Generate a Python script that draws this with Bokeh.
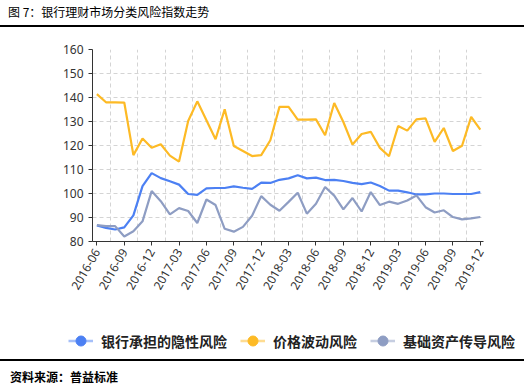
import math
from bokeh.plotting import figure
from bokeh.models import (ColumnDataSource, FixedTicker, Range1d, Legend, LegendItem, Div)
from bokeh.layouts import column, row
from bokeh.embed import file_html
from bokeh.resources import INLINE

# ---- data ----
months = ["2016-06", "2016-07", "2016-08", "2016-09", "2016-10", "2016-11", "2016-12",
          "2017-01", "2017-02", "2017-03", "2017-04", "2017-05", "2017-06", "2017-07",
          "2017-08", "2017-09", "2017-10", "2017-11", "2017-12", "2018-01", "2018-02",
          "2018-03", "2018-04", "2018-05", "2018-06", "2018-07", "2018-08", "2018-09",
          "2018-10", "2018-11", "2018-12", "2019-01", "2019-02", "2019-03", "2019-04",
          "2019-05", "2019-06", "2019-07", "2019-08", "2019-09", "2019-10", "2019-11",
          "2019-12"]
tick_labels = ["2016-06", "2016-09", "2016-12", "2017-03", "2017-06", "2017-09", "2017-12",
               "2018-03", "2018-06", "2018-09", "2018-12", "2019-03", "2019-06", "2019-09",
               "2019-12"]
bank_hidden = [86.7, 85.7, 85.0, 85.9, 90.9, 103.1, 108.5, 106.4, 105.1, 103.7, 99.8, 99.4,
               102.1, 102.3, 102.3, 103.0, 102.4, 101.9, 104.5, 104.4, 105.7, 106.3, 107.6,
               106.3, 106.6, 105.6, 105.7, 105.2, 104.4, 103.9, 104.6, 103.1, 101.2, 101.2,
               100.5, 99.6, 99.6, 100.0, 100.0, 99.8, 99.8, 99.8, 100.6]
price_vol = [141.4, 138.0, 138.0, 137.9, 116.0, 122.9, 119.1, 120.5, 115.8, 113.3, 130.2,
             138.4, 130.5, 122.6, 135.1, 119.8, 117.7, 115.6, 116.0, 122.2, 136.1, 136.1,
             130.8, 130.8, 130.9, 124.3, 137.7, 129.8, 120.4, 124.8, 125.7, 119.0, 115.5,
             128.1, 126.2, 130.9, 131.3, 121.5, 127.3, 117.7, 119.9, 131.9, 126.6]
asset_trans = [86.8, 86.4, 86.4, 82.1, 84.3, 88.4, 101.0, 96.8, 91.3, 93.9, 92.7, 87.7,
               97.5, 95.2, 85.3, 84.1, 86.1, 90.7, 98.9, 95.3, 92.8, 96.5, 100.3, 91.6,
               95.7, 102.7, 99.1, 93.4, 98.1, 92.5, 100.6, 95.2, 96.6, 95.7, 97.1, 99.2,
               94.3, 92.1, 93.0, 90.2, 89.2, 89.6, 90.2]
series_names = ["银行承担的隐性风险", "价格波动风险", "基础资产传导风险"]
colors = ["#4C80F3", "#FDBA25", "#8E9DC3"]
title_text = "图 7：银行理财市场分类风险指数走势"
source_text = "资料来源：普益标准"

idx = list(range(len(months)))
src = ColumnDataSource(dict(x=idx, month=months, a=bank_hidden, b=price_vol, c=asset_trans))

p = figure(width=524, height=295, output_backend="svg", toolbar_location=None,
           x_range=Range1d(-0.48, len(months) - 1 + 0.35), y_range=Range1d(80, 160),
           min_border_left=92, min_border_right=41, min_border_top=22, min_border_bottom=81)
p.outline_line_color = None
p.background_fill_color = "white"
p.border_fill_color = "white"

for col, c in zip(["a", "b", "c"], colors):
    p.line("x", col, source=src, line_color=c, line_width=2.2)

# axes
tick_pos = [months.index(t) for t in tick_labels]
p.xaxis.ticker = FixedTicker(ticks=tick_pos, minor_ticks=[])
p.xaxis.major_label_overrides = {i: t for i, t in zip(tick_pos, tick_labels)}
p.xaxis.major_label_orientation = math.pi / 3
p.yaxis.ticker = FixedTicker(ticks=list(range(80, 161, 10)), minor_ticks=[])
for ax in (p.xaxis, p.yaxis):
    ax.axis_line_color = "#333333"
    ax.major_tick_line_color = "#333333"
    ax.major_tick_out = 4
    ax.major_tick_in = 0
    ax.minor_tick_line_color = None
    ax.major_label_text_font = "Noto Sans"
    ax.major_label_text_font_size = "12px"
    ax.major_label_text_color = "#333333"
p.yaxis.major_label_standoff = 5
p.xaxis.major_label_standoff = 4

p.xgrid.ticker = FixedTicker(ticks=[t + 1.5 for t in tick_pos[:-1]])
for g in (p.xgrid, p.ygrid):
    g.grid_line_color = "#d4d4d4"
    g.grid_line_dash = "4 3"
    g.grid_line_width = 1

# legend strip: a figure without axes whose frame holds the legend.
# Its renderers reuse the series data, which lies outside this strip's ranges.
lg = figure(width=524, height=37, output_backend="svg", toolbar_location=None,
            x_range=Range1d(1000, 1001), y_range=Range1d(1000, 1001),
            x_axis_location=None, y_axis_location=None,
            min_border=0)
lg.outline_line_color = None
lg.grid.visible = False
lg.border_fill_color = "white"
items = []
for col, name, c in zip(["a", "b", "c"], series_names, colors):
    lr = lg.line("x", col, source=src, line_color=c, line_alpha=0.5, line_width=2.5)
    sr = lg.scatter("x", col, source=src, marker="circle", fill_color=c, line_color=c, size=10)
    items.append(LegendItem(label=name, renderers=[lr, sr]))
legend = Legend(items=items, orientation="horizontal", location=(68, 6),
                padding=0, margin=0, spacing=13, label_standoff=8,
                glyph_width=25, glyph_height=25,
                border_line_color=None, background_fill_alpha=0,
                label_text_font="Noto Sans CJK SC", label_text_font_size="14px",
                label_text_font_style="bold", label_text_color="#222222")
lg.add_layout(legend)

title_div = Div(text=title_text, width=524, height=27, margin=0,
                styles={"font-family": "Noto Sans CJK SC", "font-size": "12px",
                        "color": "black", "border-bottom": "2px solid black",
                        "box-sizing": "border-box", "padding-left": "8px",
                        "padding-top": "4px", "line-height": "16px",
                        "background": "white"})
foot_div = Div(text=source_text, width=524, height=32, margin=0,
               styles={"font-family": "Noto Sans CJK SC", "font-size": "12px",
                       "font-weight": "bold", "color": "black",
                       "border-top": "2px solid black", "box-sizing": "border-box",
                       "padding-left": "10px", "padding-top": "8px",
                       "line-height": "16px", "background": "white"})

layout = column(title_div, p, row(lg, spacing=0), foot_div, spacing=0)
open("out.html", "w").write(file_html(layout, INLINE))
